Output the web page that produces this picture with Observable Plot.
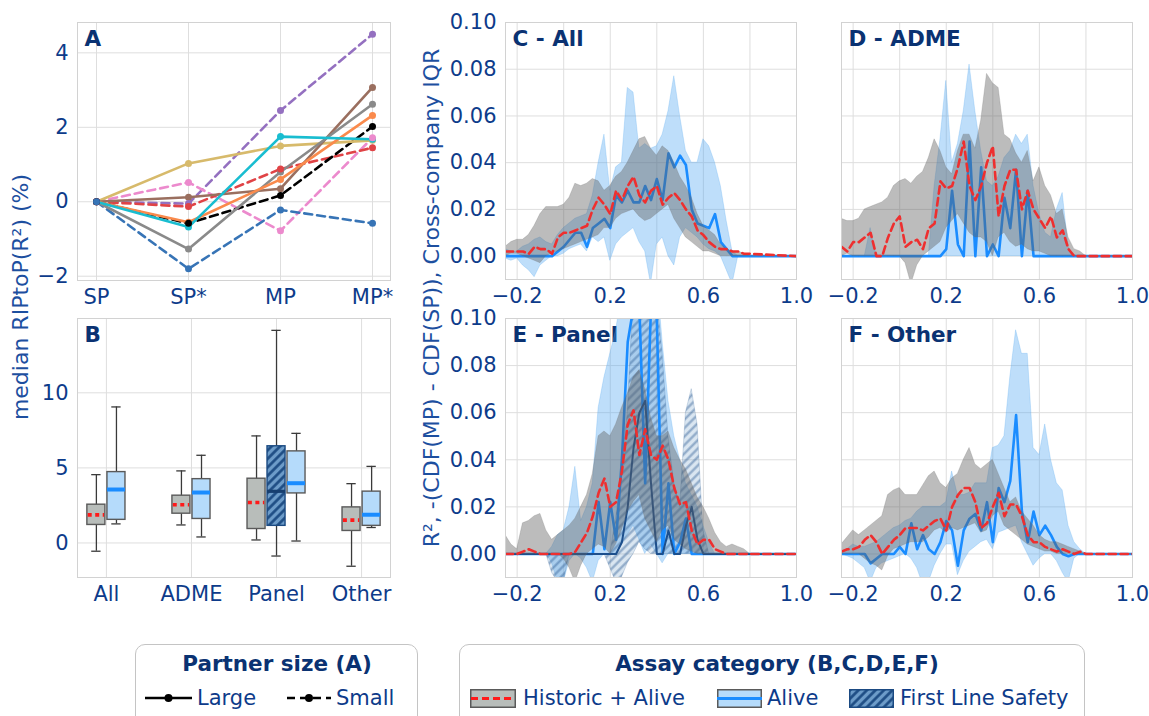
<!DOCTYPE html>
<html><head><meta charset="utf-8">
<script src="https://cdn.jsdelivr.net/npm/d3@7"></script>
<script src="https://cdn.jsdelivr.net/npm/@observablehq/plot@0.6"></script>
<style>
html,body{margin:0;padding:0;background:#fff;overflow:hidden;}
#root{position:relative;width:1149px;height:716px;overflow:hidden;font-family:"DejaVu Sans",sans-serif;color:#0d3b8a;}
.ylab{position:absolute;transform:translate(-50%,-50%) rotate(-90deg);white-space:nowrap;font-size:22px;color:#1d4f9f;line-height:1;}
.legbox{position:absolute;border:1.5px solid #c4c4c4;border-radius:10px;background:#fff;}
.legtitle{position:absolute;font-weight:bold;font-size:21.5px;color:#0a3272;white-space:nowrap;transform:translateX(-50%);line-height:1;}
.legtext{position:absolute;font-size:21px;white-space:nowrap;line-height:1;color:#0d3b8a;}
.sw{position:absolute;overflow:visible;}
</style></head><body><div id="root"></div>
<script>
// ---------- Panel A data ----------
const stages = ["SP","SP*","MP","MP*"];
const partnerIds = ["L1","L2","L3","L4","L5","S1","S2","S3","S4","S5"];
const partnerSize = ["Large","Large","Large","Large","Large","Small","Small","Small","Small","Small"];
const partnerRip = [
  [0, 1.03, 1.50, 1.65],
  [0, 0.12, 0.35, 3.07],
  [0,-1.27, 0.80, 2.62],
  [0,-0.55, 0.60, 2.32],
  [0,-0.68, 1.75, 1.68],
  [0,-0.05, 2.45, 4.50],
  [0, 0.52,-0.78, 1.72],
  [0,-0.13, 0.88, 1.45],
  [0,-0.58, 0.17, 2.02],
  [0,-1.80,-0.22,-0.58]
];

// ---------- Panel B data ----------
const assayCats = ["All","ADME","Panel","Other"];
const histMin = [-0.55, 1.20, 0.20, -1.55];
const histQ1  = [ 1.20, 1.95, 0.93,  0.80];
const histMed = [ 1.87, 2.55, 2.70,  1.52];
const histQ3  = [ 2.55, 3.15, 4.28,  2.37];
const histMax = [ 4.55, 4.80, 7.13,  3.95];
const aliveMin = [1.27, 0.40, 0.13, 1.03];
const aliveQ1  = [1.54, 1.60, 3.30, 1.14];
const aliveMed = [3.56, 3.36, 3.98, 1.88];
const aliveQ3  = [4.72, 4.25, 6.10, 3.42];
const aliveMax = [9.06, 5.84, 7.30, 5.10];
const flsCategory = "Panel";
const flsBox = [-0.87, 1.14, 3.44, 6.44, 14.16]; // min, q1, median, q3, max

// ---------- Panels C-F data (x = R², y = -(CDF(MP)-CDF(SP))) ----------
const rGrid = [-0.25,-0.225,-0.2,-0.175,-0.15,-0.125,-0.1,-0.075,-0.05,-0.025,0,0.025,0.05,0.075,0.1,0.125,0.15,0.175,0.2,0.225,0.25,0.275,0.3,0.325,0.35,0.375,0.4,0.425,0.45,0.475,0.5,0.525,0.55,0.575,0.6,0.625,0.65,0.675,0.7,0.725,0.75,0.775,0.8,1.0];

// C - All
const cHistLo  = [0,0.001,0.001,0,-0.001,-0.002,-0.003,0,0.001,0.002, 0.003,0.004,0.005,0.006,0.007,0.008,0.009,0.012,0.012,0.016, 0.018,0.019,0.020,0.017,0.015,0.016,0.018,0.020,0.022,0.016, 0.012,0.008,0.006,0.004,0.002,0.002,0.001,0,0,0, 0,0,0,0];
const cHistHi  = [0.004,0.006,0.007,0.007,0.009,0.013,0.018,0.021,0.021,0.021, 0.022,0.025,0.031,0.030,0.031,0.033,0.032,0.028,0.030,0.034, 0.036,0.040,0.045,0.050,0.051,0.046,0.043,0.047,0.045,0.040, 0.034,0.030,0.025,0.018,0.013,0.011,0.009,0.005,0.003,0.002, 0.002,0.001,0,0];
const cHistMed = [0.002,0.002,0.002,0.002,0.001,0.004,0.003,0.003,0.001,0.008, 0.010,0.010,0.011,0.012,0.013,0.020,0.025,0.022,0.018,0.028, 0.024,0.030,0.034,0.026,0.023,0.028,0.030,0.022,0.025,0.027, 0.024,0.020,0.017,0.011,0.009,0.006,0.004,0.003,0.003,0.002, 0.002,0.001,0.001,0];
const cAliveLo  = [-0.001,-0.002,-0.001,-0.004,-0.006,-0.009,-0.004,-0.002,0,0, 0.001,0.003,0.004,0.005,0.002,0.008,0.006,0.008,-0.002,0.005, 0.008,0.010,0.012,0.006,0.002,-0.012,0.005,0.008,0,-0.004, 0.008,0.012,0.010,0.008,0.005,0.003,0.002,0,-0.006,-0.012, 0,0,0,0];
const cAliveHi  = [0.003,0.002,0.002,0.004,0.005,0.007,0.008,0.006,0.005,0.009, 0.012,0.014,0.016,0.017,0.018,0.026,0.040,0.052,0.028,0.038, 0.040,0.072,0.070,0.046,0.048,0.046,0.047,0.052,0.062,0.077, 0.060,0.045,0.040,0.040,0.050,0.047,0.040,0.030,0.015,0.002, 0,0,0,0];
const cAliveMed = [0,0,0,0,0,0,0,0,0,0.002, 0.004,0.007,0.010,0.010,0.004,0.012,0.014,0.016,0.012,0.026, 0.023,0.028,0.023,0.023,0.030,0.024,0.033,0.024,0.044,0.038, 0.043,0.039,0.020,0.014,0.013,0.012,0.018,0.006,0.003,0, 0,0,0,0];

// D - ADME
const dHistLo  = [0,0.001,0,0,0,0,0,0,0,0, 0,-0.003,-0.012,-0.004,0,0.002,0.004,0.006,0.012,0.015, 0.018,0.014,0.010,0.008,0.008,0.006,0,0.008,0.010,0.006, 0.004,0.005,0.003,0.002,0.002,0.001,0,0,0,0, 0,0,0,0];
const dHistHi  = [0.016,0.015,0.015,0.016,0.020,0.021,0.022,0.023,0.025,0.030, 0.032,0.033,0.031,0.034,0.036,0.042,0.050,0.045,0.038,0.035, 0.045,0.052,0.052,0.046,0.058,0.078,0.074,0.072,0.052,0.050, 0.044,0.040,0.045,0.032,0.038,0.030,0.026,0.018,0.020,0.008, 0.003,0.002,0,0];
const dHistMed = [0.004,0.002,0.006,0.006,0.008,0.010,0,0,0.008,0.014, 0.017,0.004,0.006,0.007,0.003,0.012,0.014,0.032,0.029,0.030, 0.038,0.049,0.030,0.024,0.030,0.040,0.047,0.017,0.030,0.037, 0.037,0.020,0.028,0.020,0.016,0.012,0.017,0.008,0.011,0.003, 0,0,0,0];
const dAliveLo  = [0,0,0,0,0,0,0,0,0,0, 0,0,0,0,0,0,0,0,0,0, 0,0,0,0,0,0,0,0,0,0, 0,0,0,0,0,0,0,0,0,0, 0,0,0,0];
const dAliveHi  = [0,0,0,0,0,0.012,0,0,0,0, 0,0,0,0,0,0,0.030,0.050,0.075,0.040, 0.048,0.062,0.082,0.062,0.045,0.032,0.030,0.034,0.042,0.045, 0.052,0.048,0.052,0.030,0.018,0.010,0.008,0.020,0.027,0.004, 0,0,0,0];
const dAliveMed = [0,0,0,0,0,0,0,0,0,0, 0,0,0,0,0,0,0,0,0.003,0.028, 0.005,0,0.049,0,0.038,0,0.005,0,0.025,0.012, 0.037,0,0.028,0,0,0,0,0,0,0, 0,0,0,0];

// E - Panel
const eHistLo  = [0,0,0,0,0,0,0,0,0,0, -0.002,-0.006,-0.012,-0.005,0,0.002,0.004,0.003,0,0.004, 0.010,0.018,0.022,0.025,0.015,0.010,0.005,0.010,0.012,0.006, 0.004,0.002,0.001,0,0,0,0,0,0,0, 0,0,0,0];
const eHistHi  = [0.008,0.004,0.002,0.013,0.014,0.016,0.017,0.010,0.006,0.008, 0.010,0.012,0.015,0.020,0.025,0.034,0.050,0.052,0.050,0.055, 0.062,0.068,0.075,0.078,0.070,0.058,0.050,0.050,0.052,0.045, 0.040,0.036,0.030,0.024,0.020,0.015,0.009,0.005,0.003,0.004, 0.003,0.002,0,0];
const eHistMed = [0,0,0,0.001,0.002,0.001,0,0,0,0, 0,0,0.001,0.005,0.009,0.016,0.026,0.032,0.020,0.022, 0.035,0.055,0.061,0.042,0.053,0.042,0.040,0.046,0.040,0.028, 0.021,0.022,0.010,0.004,0.006,0.006,0.002,0.001,0,0, 0,0,0,0];
const eAliveLo  = [0,0,0,0,0,0,0,0,-0.004,-0.012, -0.012,-0.003,0,-0.002,-0.006,-0.012,-0.003,0,0,0, 0.004,0.008,0.012,0.006,0,0.004,0,-0.004,0,0, 0,0,0,0,0,0,0,0,0,0, 0,0,0,0];
const eAliveHi  = [0,0,0,0,0,0,0,0,0.003,0.008, 0.010,0.020,0.037,0.014,0.020,0.030,0.062,0.075,0.085,0.095, 0.110,0.120,0.120,0.120,0.120,0.120,0.120,0.090,0.065,0.050, 0.040,0.030,0.025,0.020,0.012,0.005,0,0,0,0, 0,0,0,0];
const eAliveMed = [0,0,0,0,0,0,0,0,0,0, 0,0,0,0,0,0,0.022,0.002,0.022,0.006, 0.040,0.090,0.105,0.105,0.030,0.105,0.100,0,0.030,0, 0.005,0.015,0,0,0,0,0,0,0,0, 0,0,0,0];
const eFlsLo  = [0,0,0,0,0,0,0,0,-0.008,-0.012, -0.012,0,0,0,0,0,0,0,-0.006,-0.012, -0.010,-0.004,0,0.005,0.002,0,0,0,0,0, 0,0,0,0,0,0,0,0,0,0, 0,0,0,0];
const eFlsHi  = [0,0,0,0,0,0,0,0,0,0, 0,0,0,0,0,0,0,0,0,0.015, 0.035,0.060,0.110,0.120,0.120,0.120,0.110,0.085,0.050,0.030, 0.020,0.060,0.070,0.055,0.010,0,0,0,0,0, 0,0,0,0];
const eFlsMed = [0,0,0,0,0,0,0,0,0,0, 0,0,0,0,0,0,0,0,0,0, 0.005,0.020,0.045,0.060,0.065,0.030,0,0,0.010,0, 0,0.012,0.020,0.006,0,0,0,0,0,0, 0,0,0,0];

// F - Other
const fHistLo  = [0,0,0,0,-0.002,-0.004,-0.005,-0.007,-0.001,0.002, 0.003,0.004,0.005,0.005,0.005,0.007,0.010,0.011,0.009,0.011, 0.010,0.011,0.012,0.013,0.009,0.010,0.016,0.018,0.012,0.010, 0.008,0.006,0.004,0.003,0.002,0.001,0.001,0,0,0, 0,0,0,0];
const fHistHi  = [0.004,0.007,0.010,0.008,0.010,0.012,0.014,0.016,0.025,0.027, 0.028,0.025,0.025,0.025,0.029,0.033,0.035,0.030,0.028,0.032, 0.034,0.040,0.045,0.038,0.036,0.038,0.040,0.034,0.028,0.022, 0.024,0.018,0.015,0.012,0.008,0.006,0.005,0.005,0.004,0.003, 0.002,0.001,0,0];
const fHistMed = [0.001,0.002,0.002,0.003,0.006,0.008,0.005,0,0.003,0.006, 0.008,0.011,0.011,0.011,0.010,0.012,0.014,0.015,0.010,0.020, 0.025,0.028,0.028,0.022,0.011,0.013,0.020,0.026,0.016,0.021, 0.021,0.016,0.008,0.005,0.005,0.003,0.002,0.001,0.002,0.001, 0,0.001,0,0];
const fAliveLo  = [0,-0.001,-0.002,-0.004,-0.006,-0.012,-0.006,-0.004,-0.003,-0.002, -0.001,0,-0.002,-0.006,-0.013,-0.012,-0.005,0,0.004,0.004, -0.009,-0.003,0.001,0.003,0.005,0.006,0.002,0.009,0.010,0.011, 0.012,0.005,0,-0.005,-0.002,0,0,-0.003,-0.008,-0.012, -0.002,0,0,0];
const fAliveHi  = [0,0.002,0.004,0.003,0.003,0.004,0.005,0.007,0.009,0.011, 0.012,0.014,0.015,0.018,0.020,0.020,0.020,0.020,0.022,0.035, 0.025,0.025,0.026,0.030,0.030,0.030,0.045,0.046,0.050,0.075, 0.095,0.085,0.085,0.045,0.042,0.055,0.040,0.030,0.027,0.012, 0.005,0.002,0,0];
const fAliveMed = [0,0,0,0,0,-0.004,-0.002,0,0,0, 0.003,0,0.013,0.002,0.008,0.002,0,0.005,0.014,0.010, -0.005,0.010,0.015,0.017,0.010,0.022,0.005,0.028,0.022,0.031, 0.059,0.018,0.005,0.018,0.008,0.012,0.008,0.003,0,-0.001, 0,0,0,0];

// tick values
const aTicksY = [-2,0,2,4];
const bTicksY = [0,5,10];
const cdfTicksY = [0,0.02,0.04,0.06,0.08,0.10];
const cdfTicksX = [-0.2,0.2,0.6,1.0];
const cdfGridX = [-0.2,0,0.2,0.4,0.6,0.8,1.0];

// ---------- styling ----------
const TXT = "#0d3b8a", TITLE = "#0a3272", GRID = "#dedede", FRAME = "#d2d2d2";
const partnerColors = ["#d7ba6b","#9a6f5f","#8a8a8a","#fa8a4c","#19bdd0","#9470c0","#ec8acd","#e04346","#000000","#3774b6"];
const baseStyle = {fontFamily:"DejaVu Sans", fontSize:"21px", color:TXT, background:"transparent", overflow:"visible"};

const root = document.getElementById("root");
root.insertAdjacentHTML("beforeend", `<svg width="0" height="0" style="position:absolute"><defs>
<pattern id="hatchBox" patternUnits="userSpaceOnUse" width="6" height="6" patternTransform="rotate(45)">
<rect width="6" height="6" fill="#6d9cc9"/><line x1="1.5" y1="0" x2="1.5" y2="6" stroke="#1b4a82" stroke-width="2.6"/></pattern>
<pattern id="hatchBand" patternUnits="userSpaceOnUse" width="6" height="6" patternTransform="rotate(45)">
<rect width="6" height="6" fill="#6d9cc9" fill-opacity="0.25"/><line x1="1.5" y1="0" x2="1.5" y2="6" stroke="#2a5b93" stroke-opacity="0.45" stroke-width="2.2"/></pattern>
</defs></svg>`);

function place(node, left, top){
  node.style.position = "absolute";
  node.style.left = left + "px";
  node.style.top = top + "px";
  root.appendChild(node);
}
function panelTitle(t){
  return Plot.text([t], {frameAnchor:"top-left", dx:7, dy:8, fontWeight:"bold", fontSize:21.5, fill:TITLE});
}

// ---------- Panel A ----------
const aRows = [];
partnerIds.forEach((p,k) => stages.forEach((s,j) => aRows.push({partner:p, size:partnerSize[k], stage:s, v:partnerRip[k][j]})));
const A = Plot.plot({
  width:400, height:310, marginLeft:77, marginRight:10, marginTop:22, marginBottom:30,
  style: baseStyle,
  x: {type:"point", domain:stages, padding:0.2, axis:null},
  y: {domain:[-2.115, 4.815], axis:null},
  color: {domain:partnerIds, range:partnerColors},
  marks: [
    Plot.gridX(stages, {stroke:GRID, strokeOpacity:1}),
    Plot.gridY(aTicksY, {stroke:GRID, strokeOpacity:1}),
    Plot.frame({stroke:FRAME}),
    panelTitle("A"),
    Plot.axisX(stages, {tickSize:0, tickPadding:9, label:null}),
    Plot.axisY(aTicksY, {tickSize:0, tickPadding:9, label:null, tickFormat:d3.format("d")}),
    Plot.line(aRows.filter(d => d.size === "Small"), {x:"stage", y:"v", z:"partner", stroke:"partner", strokeWidth:2.6, strokeDasharray:"8,5"}),
    Plot.line(aRows.filter(d => d.size === "Large"), {x:"stage", y:"v", z:"partner", stroke:"partner", strokeWidth:2.6}),
    Plot.dot(aRows, {x:"stage", y:"v", fill:"partner", r:3.5})
  ]
});
place(A, 0, 0);

// ---------- Panel B ----------
const boxW = 0.212, capW = 0.055;
const boxes = [];
assayCats.forEach((c,i) => {
  const three = c === flsCategory;
  boxes.push({kind:"hist", x:i + (three ? -0.235 : -0.118), lo:histMin[i], q1:histQ1[i], med:histMed[i], q3:histQ3[i], hi:histMax[i]});
  boxes.push({kind:"alive", x:i + (three ? 0.235 : 0.118), lo:aliveMin[i], q1:aliveQ1[i], med:aliveMed[i], q3:aliveQ3[i], hi:aliveMax[i]});
  if (three) boxes.push({kind:"fls", x:i, lo:flsBox[0], q1:flsBox[1], med:flsBox[2], q3:flsBox[3], hi:flsBox[4]});
});
const boxFill = {hist:"#b8bdba", alive:"#b5dbfb", fls:"url(#hatchBox)"};
const boxStroke = {hist:"#5a5a5a", alive:"#5a5a5a", fls:"#1b4a82"};
const B = Plot.plot({
  width:400, height:300, marginLeft:77, marginRight:10, marginTop:18, marginBottom:23,
  style: baseStyle,
  x: {domain:[-0.34, 3.34], axis:null},
  y: {domain:[-2.3, 14.95], axis:null},
  marks: [
    Plot.gridX([0,1,2,3], {stroke:GRID, strokeOpacity:1}),
    Plot.gridY(bTicksY, {stroke:GRID, strokeOpacity:1}),
    Plot.frame({stroke:FRAME}),
    panelTitle("B"),
    Plot.axisX([0,1,2,3], {tickSize:0, tickPadding:9, label:null, tickFormat:i => assayCats[i]}),
    Plot.axisY(bTicksY, {tickSize:0, tickPadding:9, label:null, tickFormat:d3.format("d")}),
    Plot.ruleX(boxes, {x:"x", y1:"lo", y2:"hi", stroke:"#3a3a3a", strokeWidth:1.3}),
    Plot.ruleY(boxes, {y:"lo", x1:d => d.x - capW, x2:d => d.x + capW, stroke:"#3a3a3a", strokeWidth:1.3}),
    Plot.ruleY(boxes, {y:"hi", x1:d => d.x - capW, x2:d => d.x + capW, stroke:"#3a3a3a", strokeWidth:1.3}),
    Plot.rect(boxes, {x1:d => d.x - boxW/2, x2:d => d.x + boxW/2, y1:"q1", y2:"q3", fill:d => boxFill[d.kind], stroke:d => boxStroke[d.kind], strokeWidth:1.4}),
    Plot.ruleY(boxes.filter(d => d.kind === "hist"), {y:"med", x1:d => d.x - boxW/2 + 0.01, x2:d => d.x + boxW/2 - 0.01, stroke:"#ff1a1a", strokeWidth:3.6, strokeDasharray:"4,3.5"}),
    Plot.ruleY(boxes.filter(d => d.kind === "alive"), {y:"med", x1:d => d.x - boxW/2, x2:d => d.x + boxW/2, stroke:"#1a8cff", strokeWidth:4}),
    Plot.ruleY(boxes.filter(d => d.kind === "fls"), {y:"med", x1:d => d.x - boxW/2, x2:d => d.x + boxW/2, stroke:"#173f70", strokeWidth:3.2})
  ]
});
place(B, 0, 300);

// ---------- Panels C-F ----------
function cdfPanel(o){
  const rows = rGrid.map((r,i) => ({
    r, hLo:o.hLo[i], hHi:o.hHi[i], hMed:o.hMed[i], aLo:o.aLo[i], aHi:o.aHi[i], aMed:o.aMed[i],
    fLo:o.fLo ? o.fLo[i] : 0, fHi:o.fHi ? o.fHi[i] : 0, fMed:o.fMed ? o.fMed[i] : 0
  }));
  const marks = [
    Plot.gridX(cdfGridX, {stroke:GRID, strokeOpacity:1}),
    Plot.gridY(cdfTicksY, {stroke:GRID, strokeOpacity:1}),
    panelTitle(o.title),
    Plot.areaY(rows, {x:"r", y1:"aLo", y2:"aHi", fill:"#4aa3f0", fillOpacity:0.36, stroke:"#4aa3f0", strokeOpacity:0.3, strokeWidth:0.8, clip:true})
  ];
  if (o.fMed) marks.push(Plot.areaY(rows, {x:"r", y1:"fLo", y2:"fHi", fill:"url(#hatchBand)", stroke:"#2a5b93", strokeOpacity:0.25, strokeWidth:0.8, clip:true}));
  marks.push(Plot.lineY(rows, {x:"r", y:"aMed", stroke:"#1a8cff", strokeWidth:2.6, clip:true}));
  if (o.fMed) marks.push(Plot.lineY(rows, {x:"r", y:"fMed", stroke:"#1d4f8c", strokeWidth:2, clip:true}));
  marks.push(
    Plot.areaY(rows, {x:"r", y1:"hLo", y2:"hHi", fill:"#606060", fillOpacity:0.42, stroke:"#707070", strokeOpacity:0.3, strokeWidth:0.8, clip:true}),
    Plot.lineY(rows, {x:"r", y:"hMed", stroke:"#ee2f2f", strokeWidth:2.6, strokeDasharray:"7.5,4.5", clip:true}),
    Plot.frame({stroke:FRAME}),
    Plot.axisX(cdfTicksX, {tickSize:0, tickPadding:9, label:null, tickFormat:d3.format(".1f")})
  );
  if (o.showY) marks.push(Plot.axisY(cdfTicksY, {tickSize:0, tickPadding:9, label:null, tickFormat:d3.format(".2f")}));
  const svg = Plot.plot({
    width:380, height:o.height, marginLeft:o.ml, marginRight:380 - o.ml - 291, marginTop:o.mt, marginBottom:o.mb,
    style: baseStyle,
    x: {domain:[-0.25, 1.0], axis:null},
    y: {domain:[-0.01, 0.10], axis:null},
    marks
  });
  place(svg, o.left, o.top);
}
cdfPanel({title:"C - All", hLo:cHistLo, hHi:cHistHi, hMed:cHistMed, aLo:cAliveLo, aHi:cAliveHi, aMed:cAliveMed, showY:true, left:420, top:0, height:310, ml:85, mt:22, mb:31});
cdfPanel({title:"D - ADME", hLo:dHistLo, hHi:dHistHi, hMed:dHistMed, aLo:dAliveLo, aHi:dAliveHi, aMed:dAliveMed, showY:false, left:760, top:0, height:310, ml:81, mt:22, mb:31});
cdfPanel({title:"E - Panel", hLo:eHistLo, hHi:eHistHi, hMed:eHistMed, aLo:eAliveLo, aHi:eAliveHi, aMed:eAliveMed, fLo:eFlsLo, fHi:eFlsHi, fMed:eFlsMed, showY:true, left:420, top:300, height:300, ml:85, mt:18, mb:23});
cdfPanel({title:"F - Other", hLo:fHistLo, hHi:fHistHi, hMed:fHistMed, aLo:fAliveLo, aHi:fAliveHi, aMed:fAliveMed, showY:false, left:760, top:300, height:300, ml:81, mt:18, mb:23});

// ---------- axis titles ----------
function ylab(text, cx, cy){
  const d = document.createElement("div");
  d.className = "ylab"; d.textContent = text;
  d.style.left = cx + "px"; d.style.top = cy + "px";
  root.appendChild(d);
}
ylab("median RIPtoP(R²) (%)", 21, 297);
ylab("R², -(CDF(MP) - CDF(SP)), Cross-company IQR", 432, 298);

// ---------- legends ----------
function el(cls, html, left, top, w, h){
  const d = document.createElement("div");
  d.className = cls; d.innerHTML = html;
  d.style.left = left + "px"; d.style.top = top + "px";
  if (w) d.style.width = w + "px";
  if (h) d.style.height = h + "px";
  root.appendChild(d);
  return d;
}
function swatch(svgInner, left, top, w, h){
  const ns = "http://www.w3.org/2000/svg";
  const s = document.createElementNS(ns, "svg");
  s.setAttribute("width", w); s.setAttribute("height", h);
  s.setAttribute("class", "sw");
  s.style.left = left + "px"; s.style.top = top + "px";
  s.innerHTML = svgInner;
  root.appendChild(s);
}
el("legbox", "", 135, 644, 281, 100);
el("legtitle", "Partner size (A)", 277, 653);
swatch('<line x1="0" y1="10" x2="47" y2="10" stroke="#000" stroke-width="2.6"/><circle cx="23.5" cy="10" r="4" fill="#000"/>', 145, 688, 47, 20);
el("legtext", "Large", 197, 688);
swatch('<line x1="0" y1="10" x2="44" y2="10" stroke="#000" stroke-width="2.6" stroke-dasharray="8,5"/><circle cx="22" cy="10" r="4" fill="#000"/>', 287, 688, 44, 20);
el("legtext", "Small", 336, 688);

el("legbox", "", 459, 644, 624, 100);
el("legtitle", "Assay category (B,C,D,E,F)", 777, 653);
swatch('<rect x="0.75" y="0.75" width="44.5" height="17.5" fill="#b8bdba" stroke="#5a5a5a" stroke-width="1.5"/><line x1="1" y1="9.5" x2="45" y2="9.5" stroke="#ff1a1a" stroke-width="3" stroke-dasharray="7,4"/>', 470, 689, 46, 19);
el("legtext", "Historic + Alive", 523, 688);
swatch('<rect x="0.75" y="0.75" width="43.5" height="17.5" fill="#b5dbfb" stroke="#5a5a5a" stroke-width="1.5"/><line x1="0" y1="9.5" x2="45" y2="9.5" stroke="#1a8cff" stroke-width="3.2"/>', 717, 689, 45, 19);
el("legtext", "Alive", 767, 688);
swatch('<rect x="0.75" y="0.75" width="43.5" height="17.5" fill="url(#hatchBox)" stroke="#1b4a82" stroke-width="1.5"/>', 849, 689, 45, 19);
el("legtext", "First Line Safety", 900, 688);
</script></body></html>
